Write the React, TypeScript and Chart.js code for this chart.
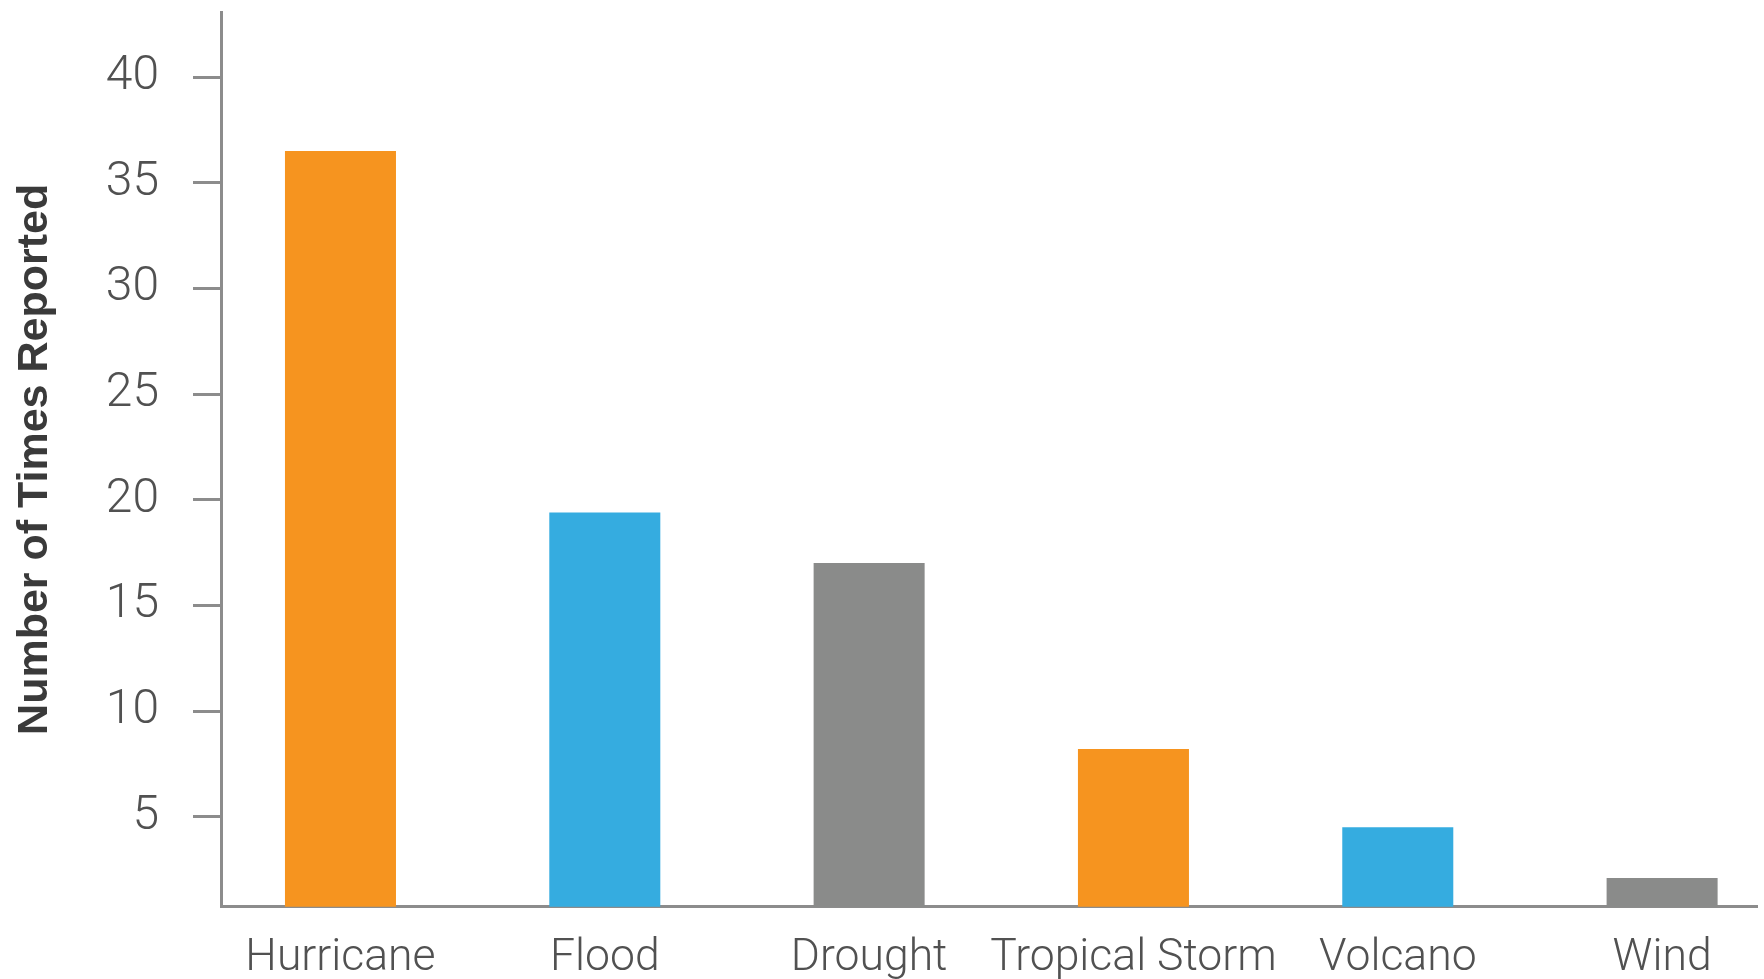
import React, { useEffect, useRef } from "react";
import { Chart, registerables } from "chart.js";

Chart.register(...registerables);

const categories = ["Hurricane", "Flood", "Drought", "Tropical Storm", "Volcano", "Wind"];
const values = [36.5, 19.4, 17, 8.2, 4.5, 2.1];
const barColors = ["#F6941F", "#35ACE0", "#8A8B8A", "#F6941F", "#35ACE0", "#8A8B8A"];
const yTicks = [5, 10, 15, 20, 25, 30, 35, 40];
const yTitle = "Number of Times Reported";

export default function App() {
  const canvasRef = useRef<HTMLCanvasElement | null>(null);

  useEffect(() => {
    document.body.style.margin = "0";
    const canvas = canvasRef.current;
    if (!canvas) return;
    const axisColor = "#8C8C8C";
    const chart = new Chart(canvas, {
      type: "bar",
      data: {
        datasets: [
          {
            data: categories.map((_, i) => ({ x: i, y: values[i] })),
            backgroundColor: barColors,
            borderWidth: 0,
            barPercentage: 0.42,
            categoryPercentage: 1,
            clip: 0 as any,
          },
        ],
      },
      options: {
        animation: false,
        responsive: true,
        maintainAspectRatio: false,
        layout: { padding: { top: 12, right: 7, left: 0, bottom: 0 } },
        plugins: { legend: { display: false }, tooltip: { enabled: false } },
        scales: {
          x: {
            type: "linear",
            min: -0.452,
            max: 5.359,
            offset: false,
            z: 1,
            afterBuildTicks: (scale: any) => {
              scale.ticks = categories.map((_, i) => ({ value: i }));
            },
            afterFit: (scale: any) => {
              scale.height = 72.3;
              scale.paddingLeft = 0;
              scale.paddingRight = 0;
            },
            grid: { display: false, drawTicks: false, offset: false },
            border: { display: true, color: axisColor, width: 3 },
            ticks: {
              autoSkip: false,
              maxRotation: 0,
              padding: 25,
              color: "#515151",
              font: { family: "Roboto", size: 44.5, weight: "300" as any },
              callback: (v: any) => categories[v] ?? "",
            },
          },
          y: {
            type: "linear",
            min: 0.74,
            max: 43.08,
            afterBuildTicks: (scale: any) => {
              scale.ticks = yTicks.map((v) => ({ value: v }));
            },
            afterFit: (scale: any) => {
              scale.width = 221;
              scale.paddingTop = 0;
              scale.paddingBottom = 0;
            },
            grid: {
              display: true,
              drawOnChartArea: false,
              drawTicks: true,
              tickLength: 28,
              tickWidth: 3,
              tickColor: axisColor,
              color: axisColor,
            },
            border: { display: true, color: axisColor, width: 3 },
            ticks: {
              padding: 34,
              color: "#515151",
              font: { family: "Roboto", size: 48, weight: "300" as any },
            },
            title: {
              display: true,
              text: yTitle,
              color: "#3A3A3A",
              font: { family: "Liberation Sans", size: 43, weight: "bold" },
              padding: { top: 9, bottom: 0 },
            },
          },
        },
      },
    });
    return () => chart.destroy();
  }, []);

  return (
    <div style={{ width: "1764px", height: "979px", position: "relative", background: "#fff" }}>
      <canvas ref={canvasRef} />
    </div>
  );
}
